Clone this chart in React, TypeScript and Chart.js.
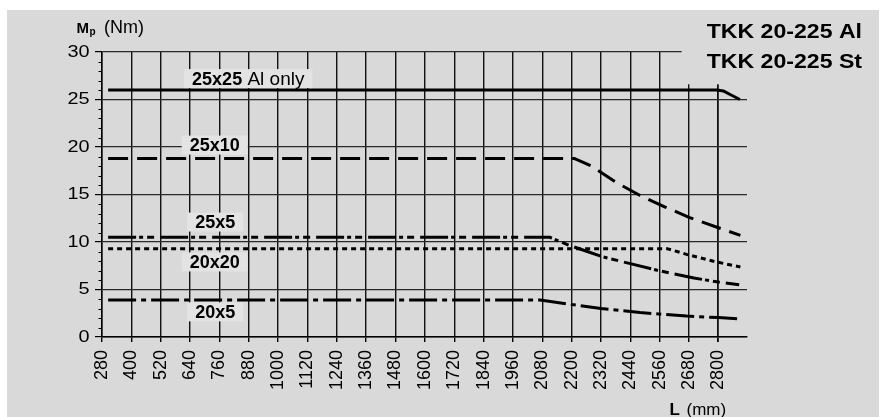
import React, { useEffect, useRef } from 'react';
import { Chart, registerables } from 'chart.js';

Chart.register(...registerables);

// ---- data ----
const lengthTicks = [280, 400, 520, 640, 760, 880, 1000, 1120, 1240, 1360, 1480, 1600, 1720, 1840, 1960, 2080, 2200, 2320, 2440, 2560, 2680, 2800];
const momentTicks = [0, 5, 10, 15, 20, 25, 30];

const x25x25 = [305, 2795, 2820, 2850, 2888];
const y25x25 = [26, 26, 25.9, 25.5, 25.0];

const x25x10 = [305, 2210, 2280, 2380, 2480, 2580, 2680, 2800, 2890];
const y25x10 = [18.8, 18.8, 18.0, 16.3, 14.9, 13.7, 12.6, 11.5, 10.7];

const x25x5 = [305, 2110, 2190, 2270, 2330, 2440, 2550, 2700, 2800, 2885];
const y25x5 = [10.5, 10.5, 9.65, 8.95, 8.42, 7.72, 7.02, 6.21, 5.78, 5.5];

const x20x20 = [305, 2590, 2670, 2780, 2890];
const y20x20 = [9.3, 9.3, 8.7, 7.97, 7.37];

const x20x5 = [305, 2070, 2100, 2195, 2320, 2480, 2670, 2800, 2890];
const y20x5 = [3.9, 3.9, 3.8, 3.44, 3.0, 2.57, 2.21, 2.04, 1.89];

const seriesNames = ['25x25', '25x10', '25x5', '20x20', '20x5'];
const seriesSuffix = [' Al only', '', '', '', ''];
const labelXValues = [878, 741, 743, 741, 743];
const labelYValues = [27.2, 20.2, 12.1, 7.9, 2.65];

const titleLines = ['TKK 20-225 Al', 'TKK 20-225 St'];

const FONT = '"Liberation Sans", Arial, Helvetica, sans-serif';
const BG = '#d9d9d9';
const BOX = '#e3e3e3';

const toPoints = (xs: number[], ys: number[]) => xs.map((x, i) => ({ x, y: ys[i] }));

const decorPlugin = {
  id: 'decor',
  beforeDraw(chart: any) {
    const ctx = chart.ctx;
    ctx.save();
    ctx.fillStyle = '#ffffff';
    ctx.fillRect(0, 0, chart.width, chart.height);
    ctx.fillStyle = BG;
    ctx.fillRect(7, 10, 872, chart.height - 10);
    ctx.restore();
  },
  beforeDatasetsDraw(chart: any) {
    const ctx = chart.ctx;
    const xs = chart.scales.x;
    const ys = chart.scales.y;
    const area = chart.chartArea;
    ctx.save();
    // cut-out of the grid at the top right (title area)
    ctx.fillStyle = BG;
    const cx = xs.getPixelForValue(2650);
    const cy = ys.getPixelForValue(26.6);
    ctx.fillRect(cx, area.top - 4, area.right - cx + 4, cy - area.top + 4);
    // minor ticks on y axis
    ctx.strokeStyle = '#000';
    ctx.lineWidth = 1;
    for (let v = 0; v <= 30; v++) {
      if (v % 5 === 0) continue;
      const py = Math.round(ys.getPixelForValue(v)) + 0.5;
      ctx.beginPath();
      ctx.moveTo(area.left - 3.5, py);
      ctx.lineTo(area.left, py);
      ctx.stroke();
    }
    // y tick labels (slightly wide type, as in the original)
    ctx.fillStyle = '#000';
    ctx.textAlign = 'right';
    ctx.textBaseline = 'middle';
    ctx.font = '16px ' + FONT;
    momentTicks.forEach((v) => {
      const py = ys.getPixelForValue(v);
      ctx.save();
      ctx.translate(area.left - 12.5, py + 0.5);
      ctx.scale(1.24, 1);
      ctx.fillText(String(v), 0, 0);
      ctx.restore();
    });
    ctx.restore();
  },
  afterDatasetsDraw(chart: any) {
    const ctx = chart.ctx;
    const xs = chart.scales.x;
    const ys = chart.scales.y;
    ctx.save();
    ctx.textBaseline = 'middle';
    // series labels
    seriesNames.forEach((name, i) => {
      const boldFont = 'bold 18px ' + FONT;
      const regFont = '19px ' + FONT;
      ctx.font = boldFont;
      const w1 = ctx.measureText(name).width;
      ctx.font = regFont;
      const w2 = seriesSuffix[i] ? ctx.measureText(seriesSuffix[i]).width : 0;
      const total = w1 + w2;
      const cxp = xs.getPixelForValue(labelXValues[i]);
      const cyp = ys.getPixelForValue(labelYValues[i]);
      const left = cxp - total / 2;
      ctx.fillStyle = BOX;
      ctx.fillRect(left - 8, cyp - 9.5, total + 16, 19);
      ctx.fillStyle = '#000';
      ctx.textAlign = 'left';
      ctx.font = boldFont;
      ctx.fillText(name, left, cyp + 1);
      if (w2) {
        ctx.font = regFont;
        ctx.fillText(seriesSuffix[i], left + w1, cyp + 1);
      }
    });
    // title
    ctx.textBaseline = 'alphabetic';
    ctx.textAlign = 'right';
    ctx.font = 'bold 21px ' + FONT;
    ctx.fillStyle = '#000';
    titleLines.forEach((t, i) => {
      ctx.save();
      ctx.translate(862, i === 0 ? 37.5 : 68);
      ctx.scale(1.1, 1);
      ctx.fillText(t, 0, 0);
      ctx.restore();
    });
    // y axis title
    ctx.textAlign = 'left';
    ctx.font = 'bold 15px ' + FONT;
    ctx.fillText('M', 76.5, 32.5);
    const mw = ctx.measureText('M').width;
    ctx.font = 'bold 10px ' + FONT;
    ctx.fillText('p', 76.5 + mw + 0.5, 35);
    ctx.font = '18px ' + FONT;
    ctx.fillText('(Nm)', 104, 32.5);
    // x axis title
    ctx.font = 'bold 17px ' + FONT;
    ctx.fillText('L', 669.5, 415);
    ctx.font = '17px ' + FONT;
    ctx.fillText('(mm)', 686.5, 415);
    ctx.restore();
  },
};

export default function App() {
  const ref = useRef<HTMLCanvasElement | null>(null);

  useEffect(() => {
    document.body.style.margin = '0';
    const canvas = ref.current;
    if (!canvas) return;
    const common = {
      borderColor: '#000',
      borderWidth: 3,
      pointRadius: 0,
      fill: false,
      tension: 0,
      borderCapStyle: 'butt' as const,
      borderJoinStyle: 'round' as const,
    };
    const chart = new Chart(canvas, {
      type: 'line',
      data: {
        datasets: [
          { ...common, label: seriesNames[0], data: toPoints(x25x25, y25x25), borderDash: [] },
          { ...common, label: seriesNames[1], data: toPoints(x25x10, y25x10), borderDash: [20, 9] },
          { ...common, label: seriesNames[2], data: toPoints(x25x5, y25x5), borderDash: [28, 3, 4, 4, 7, 6] },
          { ...common, label: seriesNames[3], data: toPoints(x20x20, y20x20), borderDash: [5, 4] },
          { ...common, label: seriesNames[4], data: toPoints(x20x5, y20x5), borderDash: [28, 5, 5, 5] },
        ],
      },
      options: {
        animation: false,
        responsive: false,
        devicePixelRatio: 1,
        layout: { padding: { left: 0, right: 139, top: 52, bottom: 0 } },
        plugins: {
          legend: { display: false },
          tooltip: { enabled: false },
          title: { display: false },
        },
        scales: {
          x: {
            type: 'linear',
            min: 280,
            max: 2917,
            afterBuildTicks: (s: any) => {
              s.ticks = lengthTicks.map((v) => ({ value: v }));
            },
            afterFit: (s: any) => {
              s.height = 80;
            },
            ticks: {
              autoSkip: false,
              minRotation: 90,
              maxRotation: 90,
              padding: 8,
              color: '#000',
              font: { family: FONT, size: 18 },
              callback: (v: any) => String(v),
            },
            grid: {
              color: '#111',
              lineWidth: (c: any) => (c.tick && c.tick.value === 2800 ? 1.8 : 1.4),
              tickLength: 5,
              tickColor: '#000',
            },
            border: { display: true, color: '#000', width: 1.5 },
          },
          y: {
            type: 'linear',
            min: 0,
            max: 30,
            afterBuildTicks: (s: any) => {
              s.ticks = momentTicks.map((v) => ({ value: v }));
            },
            afterFit: (s: any) => {
              s.width = 102;
            },
            ticks: {
              padding: 6,
              color: 'rgba(0,0,0,0)',
              font: { family: FONT, size: 15 },
              callback: (v: any) => String(v),
            },
            grid: {
              color: '#2a2a2a',
              lineWidth: 1.2,
              tickLength: 7,
              tickColor: '#000',
            },
            border: { display: true, color: '#000', width: 1.5 },
          },
        },
      },
      plugins: [decorPlugin],
    } as any);
    return () => chart.destroy();
  }, []);

  return (
    <div style={{ position: 'absolute', left: 0, top: 0, width: 886, height: 417 }}>
      <canvas ref={ref} width={886} height={417} />
    </div>
  );
}
